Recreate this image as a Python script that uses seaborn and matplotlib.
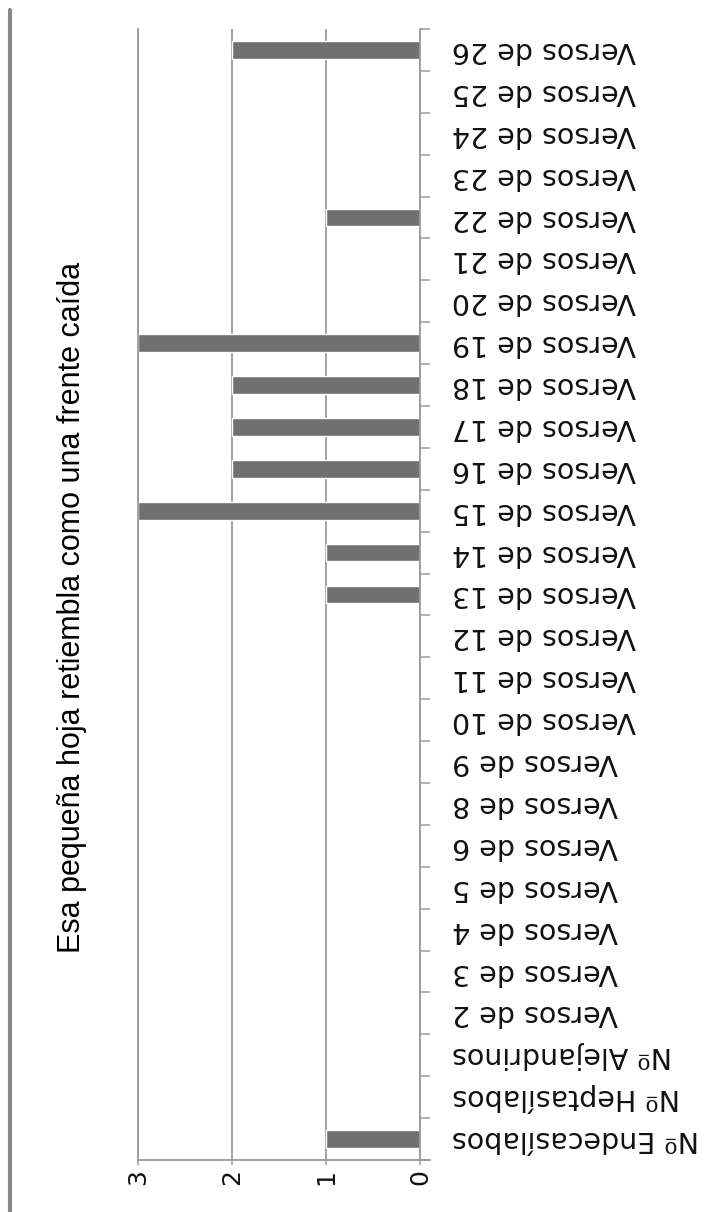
import matplotlib
matplotlib.use('Agg')
import matplotlib.pyplot as plt
import seaborn as sns
import numpy as np
from matplotlib.lines import Line2D

# data
categories = ['Nº Endecasílabos', 'Nº Heptasílabos', 'Nº Alejandrinos',
              'Versos de 2', 'Versos de 3', 'Versos de 4', 'Versos de 5',
              'Versos de 6', 'Versos de 8', 'Versos de 9', 'Versos de 10',
              'Versos de 11', 'Versos de 12', 'Versos de 13', 'Versos de 14',
              'Versos de 15', 'Versos de 16', 'Versos de 17', 'Versos de 18',
              'Versos de 19', 'Versos de 20', 'Versos de 21', 'Versos de 22',
              'Versos de 23', 'Versos de 24', 'Versos de 25', 'Versos de 26']
values = [1, 0, 0,
          0, 0, 0, 0,
          0, 0, 0, 0,
          0, 0, 1, 1,
          3, 2, 2, 2,
          3, 0, 0, 1,
          0, 0, 0, 2]
value_ticks = [0, 1, 2, 3]

title = 'Esa pequeña hoja retiembla como una frente caída'

sns.set_style('white')
plt.rcParams['font.family'] = ['DejaVu Sans']

grey = '#9a9a9a'
bar_color = '#707070'

W, H = 717, 1212
fig = plt.figure(figsize=(W / 100, H / 100), dpi=100)
ax = fig.add_axes([138 / W, 1 - 1160 / H, (420 - 138) / W, (1160 - 29) / H])

sns.barplot(x=values, y=categories, orient='h', color=bar_color,
            saturation=1, width=0.42, ax=ax)

# value axis runs right to left (0 at the right)
ax.set_xlim(3, 0)
ax.set_ylim(-0.5, len(categories) - 0.5)
ax.set_xticks(value_ticks)
ax.set_xticklabels([str(v) for v in value_ticks], va='top', ha='center')
ax.tick_params(axis='x', which='major', length=3.6, width=1.1, color=grey,
               bottom=True, direction='out', pad=3, labelsize=18,
               labelrotation=90, labelcolor='#111111')
ax.grid(axis='x', color=grey, lw=1.3)
ax.grid(axis='y', visible=False)
ax.set_axisbelow(True)

# category axis on the right, labels turned upside down
ax.yaxis.tick_right()
ax.set_yticks(range(len(categories)))
ax.set_yticklabels(categories, va='center')
ax.set_yticks(np.arange(-0.5, len(categories), 1), minor=True)
ax.tick_params(axis='y', which='major', length=0, pad=23, labelsize=20.5,
               labelrotation=180, labelcolor='#111111')
ax.tick_params(axis='y', which='minor', length=7.5, width=1.1, color=grey,
               right=True, left=False, direction='out')
ax.set_xlabel('')
ax.set_ylabel('')

ax.spines['top'].set_visible(False)
for side in ['left', 'right', 'bottom']:
    ax.spines[side].set_color(grey)
    ax.spines[side].set_linewidth(1.3)

# bottom line runs on past the zero line, as in the original
ax.plot([1, 1 + 10 / 282], [0, 0], transform=ax.transAxes, color=grey,
        lw=1.3, clip_on=False)

fig.text(72 / W, 1 - 607 / H, title, rotation=90, ha='center', va='center',
         fontsize=22, family=['Liberation Sans'], color='#000000')

# outer frame line at the left edge
fig.add_artist(Line2D([10 / W, 10 / W], [0, 1 - 10 / H], color='#888888',
                      lw=3))

fig.savefig('out.png', dpi=100)
